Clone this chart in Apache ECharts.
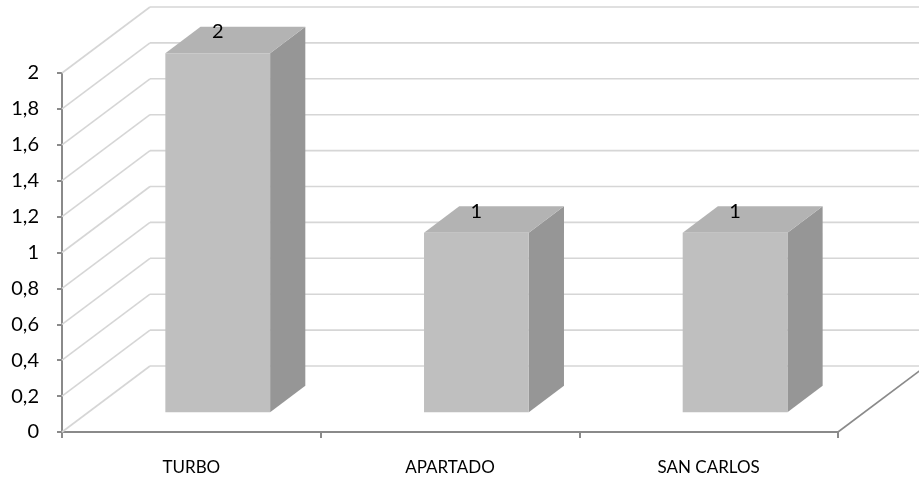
<!DOCTYPE html>
<html>
<head>
<meta charset="utf-8">
<script src="https://cdn.jsdelivr.net/npm/echarts@6/dist/echarts.min.js"></script>
<style>html,body{margin:0;padding:0;background:#fff;}#c{width:919px;height:482px;}</style>
</head>
<body>
<div id="c"></div>
<script>
var categories = ['TURBO', 'APARTADO', 'SAN CARLOS'];
var values = [2, 1, 1];
var yTickValues = [0, 0.2, 0.4, 0.6, 0.8, 1, 1.2, 1.4, 1.6, 1.8, 2];

var DX = 88, DY = -66;      // full depth offset in pixels
var F0 = 0.30, F1 = 0.70;   // bar depth span (fraction of full depth)
var BAR_RATIO = 0.405;
var GRID_COLOR = '#d6d6d6';
var AXIS_COLOR = '#8a8a8a';
var FONT = 'Lato';

var chart = echarts.init(document.getElementById('c'));

function wallItem(params, api) {
  var cs = params.coordSys;
  var v = api.value(1);
  var y = api.coord([0, v])[1];
  var x0 = cs.x;
  var children = [
    {type: 'line', shape: {x1: x0, y1: y, x2: x0 + DX, y2: y + DY},
     style: {stroke: GRID_COLOR, lineWidth: 1.6}},
    {type: 'line', shape: {x1: x0 + DX, y1: y + DY, x2: api.getWidth() + 5, y2: y + DY},
     style: {stroke: GRID_COLOR, lineWidth: 1.6}}
  ];
  if (v === 0) {
    var xr = cs.x + cs.width, yb = cs.y + cs.height;
    children.push({type: 'line', shape: {x1: xr, y1: yb, x2: xr + DX, y2: yb + DY},
      style: {stroke: AXIS_COLOR, lineWidth: 1.6}});
  }
  return {type: 'group', children: children};
}

function barItem(params, api) {
  var ci = api.value(0), v = api.value(1);
  var base = api.coord([ci, 0]);
  var top = api.coord([ci, v]);
  var band = api.size([1, 0])[0];
  var w = band * BAR_RATIO;
  var xl = base[0] - w / 2 + F0 * DX;
  var xr = xl + w;
  var yb = base[1] + F0 * DY;
  var yt = top[1] + F0 * DY;
  var ddx = (F1 - F0) * DX, ddy = (F1 - F0) * DY;
  return {type: 'group', children: [
    {type: 'polygon', shape: {points: [[xr, yt], [xr + ddx, yt + ddy], [xr + ddx, yb + ddy], [xr, yb]]},
     style: {fill: '#969696'}},
    {type: 'polygon', shape: {points: [[xl, yt], [xl + ddx, yt + ddy], [xr + ddx, yt + ddy], [xr, yt]]},
     style: {fill: '#b3b3b3'}},
    {type: 'rect', shape: {x: xl, y: yt, width: w, height: yb - yt},
     style: {fill: '#bfbfbf'}},
    {type: 'text', style: {text: String(v), x: xl + w / 2, y: yt + ddy + 5,
      align: 'center', verticalAlign: 'middle', fill: '#000',
      font: '20px "' + FONT + '"'}}
  ]};
}

chart.setOption({
  animation: false,
  backgroundColor: '#fff',
  grid: {left: 62, right: 81, top: 73, bottom: 50},
  xAxis: {
    type: 'category', data: categories,
    axisLine: {lineStyle: {color: AXIS_COLOR, width: 2}},
    axisTick: {show: true, length: 6, lineStyle: {color: AXIS_COLOR, width: 2}},
    axisLabel: {color: '#000', fontFamily: FONT, fontSize: 17, margin: 27}
  },
  yAxis: {
    type: 'value', min: 0, max: 2, interval: 0.2,
    axisLine: {show: true, lineStyle: {color: AXIS_COLOR, width: 2}},
    axisTick: {show: true, length: 5, lineStyle: {color: AXIS_COLOR, width: 2}},
    splitLine: {show: false},
    axisLabel: {color: '#000', fontFamily: FONT, fontSize: 20, margin: 23,
      formatter: function (v) { return String(Math.round(v * 10) / 10).replace('.', ','); }}
  },
  series: [
    {type: 'custom', renderItem: wallItem, z: 1, silent: true,
     data: yTickValues.map(function (t) { return [0, t]; })},
    {type: 'custom', renderItem: barItem, z: 3, silent: true,
     data: values.map(function (v, i) { return [i, v]; })}
  ]
});
</script>
</body>
</html>
